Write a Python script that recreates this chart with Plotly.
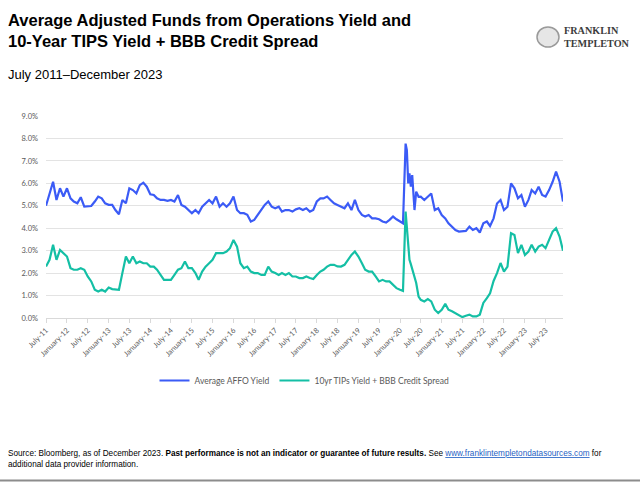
import pandas as pd
import plotly.graph_objects as go

# ---------------- data ----------------
# monthly readings Jul-2011 .. Dec-2019
pre_dates = pd.date_range("2011-07-01", periods=102, freq="MS")
affo_pre = [
    5.00, 5.60, 6.07, 5.26, 5.78, 5.41,
    5.78, 5.33, 5.19, 5.11, 5.38, 4.96, 4.96, 4.99, 5.19, 5.41, 5.33, 5.11,
    5.04, 5.04, 4.81, 4.62, 5.26, 5.11, 5.78, 5.70, 5.55, 5.92, 6.03, 5.85,
    5.51, 5.48, 5.33, 5.26, 5.26, 5.22, 5.26, 5.19, 5.48, 5.04, 4.96, 4.81,
    4.67, 4.81, 4.67, 4.96, 5.11, 5.26, 5.11, 5.41, 4.96, 5.11, 4.96, 5.11,
    5.41, 4.81, 4.67, 4.67, 4.60, 4.30, 4.37, 4.60, 4.81, 5.04, 5.19, 4.96,
    4.89, 4.96, 4.74, 4.81, 4.81, 4.74, 4.84, 4.89, 4.81, 4.89, 4.74, 4.81,
    5.19, 5.33, 5.33, 5.41, 5.26, 5.11, 5.04, 4.96, 4.89, 5.11, 4.81, 5.26,
    4.81, 4.59, 4.52, 4.59, 4.44, 4.44, 4.40, 4.30, 4.25, 4.37, 4.52, 4.40,
]
tips_pre = [
    2.29, 2.59, 3.26, 2.59, 3.03, 2.89,
    2.74, 2.22, 2.15, 2.15, 2.22, 2.15, 1.85, 1.63, 1.26, 1.18, 1.26, 1.18,
    1.36, 1.29, 1.26, 1.26, 2.00, 2.74, 2.44, 2.74, 2.44, 2.52, 2.44, 2.44,
    2.29, 2.29, 2.15, 1.92, 1.70, 1.70, 1.70, 1.92, 2.15, 2.22, 2.52, 2.22,
    2.22, 2.00, 1.70, 2.07, 2.29, 2.44, 2.59, 2.89, 2.89, 2.89, 2.96, 3.11,
    3.48, 3.18, 2.44, 2.22, 2.29, 2.07, 2.00, 2.00, 1.92, 1.92, 2.29, 2.07,
    2.00, 1.92, 2.00, 1.92, 2.00, 1.85, 1.85, 1.78, 1.78, 1.85, 1.78, 1.74,
    1.92, 2.07, 2.15, 2.29, 2.37, 2.37, 2.30, 2.29, 2.37, 2.59, 2.81, 2.96,
    2.74, 2.44, 2.15, 2.07, 2.07, 1.85, 1.63, 1.70, 1.63, 1.63, 1.48, 1.33,
]

# early-2020 spike, finer readings
spike_dates = pd.to_datetime([
    "2020-01-01", "2020-01-27", "2020-02-19", "2020-03-01", "2020-03-13",
    "2020-03-24", "2020-04-05", "2020-04-17", "2020-05-07", "2020-05-22",
    "2020-06-12",
])
affo_spike = [4.30, 4.22, 7.77, 7.48, 6.00, 6.44, 5.85, 6.37, 4.81, 5.63, 5.40]
tips_spike = [1.26, 1.21, 4.74, 3.92, 3.20, 2.59, 2.40, 2.15, 1.75, 1.56, 0.95]

# monthly readings Jul-2020 .. Dec-2023
post_dates = pd.date_range("2020-07-01", periods=42, freq="MS")
affo_post = [
    5.41, 5.26, 5.41, 5.55, 4.81, 4.89,
    4.59, 4.44, 4.22, 4.07, 3.92, 3.85, 3.85, 3.88, 4.07, 3.92, 4.00, 3.81,
    4.22, 4.30, 4.10, 4.44, 5.10, 5.26, 4.81, 4.96, 6.00, 5.78, 5.33, 5.48,
    4.96, 5.26, 5.70, 5.55, 5.85, 5.48, 5.41, 5.70, 6.07, 6.52, 6.07, 5.19,
]
tips_post = [
    0.81, 0.74, 0.84, 0.74, 0.37, 0.22,
    0.37, 0.63, 0.37, 0.30, 0.22, 0.15, 0.04, 0.10, 0.15, 0.07, 0.07, 0.15,
    0.67, 0.89, 1.10, 1.65, 2.00, 2.45, 2.07, 2.29, 3.78, 3.70, 2.89, 3.26,
    2.81, 2.96, 3.26, 2.96, 3.18, 3.26, 3.11, 3.48, 3.85, 4.00, 3.63, 3.00,
]

dates = list(pre_dates) + list(spike_dates) + list(post_dates)
affo = affo_pre + affo_spike + affo_post
tips = tips_pre + tips_spike + tips_post

series_names = ["Average AFFO Yield", "10yr TIPs Yield + BBB Credit Spread"]
series_colors = ["#3b5bf6", "#14bfa5"]

y_ticks = [0, 1, 2, 3, 4, 5, 6, 7, 8, 9]
y_tick_labels = ["0.0%", "1.0%", "2.0%", "3.0%", "4.0%", "5.0%", "6.0%", "7.0%", "8.0%", "9.0%"]

# ---------------- layout helpers ----------------
W, H = 640, 482
ML, MR, MT, MB = 46, 77, 116, 164
PW, PH = W - ML - MR, H - MT - MB


def px(x):
    return (x - ML) / PW


def py(y):
    return (H - MB - y) / PH


fig = go.Figure()
for name, vals, col in zip(series_names, [affo, tips], series_colors):
    fig.add_trace(go.Scatter(x=dates, y=vals, mode="lines", name=name,
                             line=dict(color=col, width=2.2)))

fig.update_layout(
    width=W, height=H,
    margin=dict(l=ML, r=MR, t=MT, b=MB, autoexpand=False),
    paper_bgcolor="white", plot_bgcolor="white",
    font=dict(family="Liberation Sans, Arial, sans-serif", color="#595959"),
    showlegend=True,
    legend=dict(orientation="h", x=0.5, xanchor="center", y=py(366), yanchor="top",
                font=dict(family="Lato, Liberation Sans, sans-serif", size=8.5, color="#595959"),
                itemwidth=30, bgcolor="rgba(0,0,0,0)"),
)
fig.update_xaxes(
    type="date", range=["2011-07-01", "2023-12-01"],
    tick0="2011-07-01", dtick="M6", tickformat="%B-%y", tickangle=-45,
    tickfont=dict(family="Lato, Liberation Sans, sans-serif", size=7.5, color="#595959"),
    showgrid=False, showline=True, linecolor="#d9d9d9", linewidth=1,
    ticks="outside", ticklen=4, tickcolor="#d9d9d9", zeroline=False,
)
fig.update_yaxes(
    range=[0, 9], tickvals=y_ticks, ticktext=y_tick_labels,
    tickfont=dict(family="Lato, Liberation Sans, sans-serif", size=7.5, color="#595959"),
    showgrid=True, gridcolor="#e3e3e3", gridwidth=1, zeroline=False, showline=False,
    ticks="", ticklabelstandoff=7,
)

ann = []
ann.append(dict(text="<b>Average Adjusted Funds from Operations Yield and<br>10-Year TIPS Yield + BBB Credit Spread</b>",
                x=px(6), y=py(9), xref="paper", yref="paper", xanchor="left", yanchor="top",
                align="left", showarrow=False,
                font=dict(family="Liberation Sans, Arial, sans-serif", size=16.5, color="#000000")))
ann.append(dict(text="July 2011\u2013December 2023",
                x=px(6), y=py(74), xref="paper", yref="paper", xanchor="left", yanchor="middle",
                align="left", showarrow=False,
                font=dict(family="Liberation Sans, Arial, sans-serif", size=13, color="#000000")))
ann.append(dict(text="<b>FRANKLIN<br>TEMPLETON</b>",
                x=px(562), y=py(37), xref="paper", yref="paper", xanchor="left", yanchor="middle",
                align="left", showarrow=False,
                font=dict(family="Liberation Serif, DejaVu Serif, serif", size=10.2, color="#3c3c3c")))
ann.append(dict(text=("Source: Bloomberg, as of December 2023. <b>Past performance is not an indicator or guarantee of future results.</b> See "
                      "<span style='color:#1f5fc4;text-decoration:underline'>www.franklintempletondatasources.com</span> for"
                      "<br>additional data provider information."),
                x=px(6), y=py(459), xref="paper", yref="paper", xanchor="left", yanchor="middle",
                align="left", showarrow=False,
                font=dict(family="Liberation Sans, Arial, sans-serif", size=8.2, color="#000000")))
fig.update_layout(annotations=ann)

shapes = [
    dict(type="line", xref="paper", yref="paper", x0=px(0), x1=px(640), y0=py(480.5), y1=py(480.5),
         line=dict(color="#8c8c8c", width=2)),
    dict(type="circle", xref="paper", yref="paper", x0=px(537), x1=px(559), y0=py(27), y1=py(47),
         line=dict(color="#9a9a9a", width=1.5), fillcolor="#e6e6e6"),
]
fig.update_layout(shapes=shapes)

fig.write_html("out.html", config={"displayModeBar": False},
               post_script="document.body.style.margin='0';")
